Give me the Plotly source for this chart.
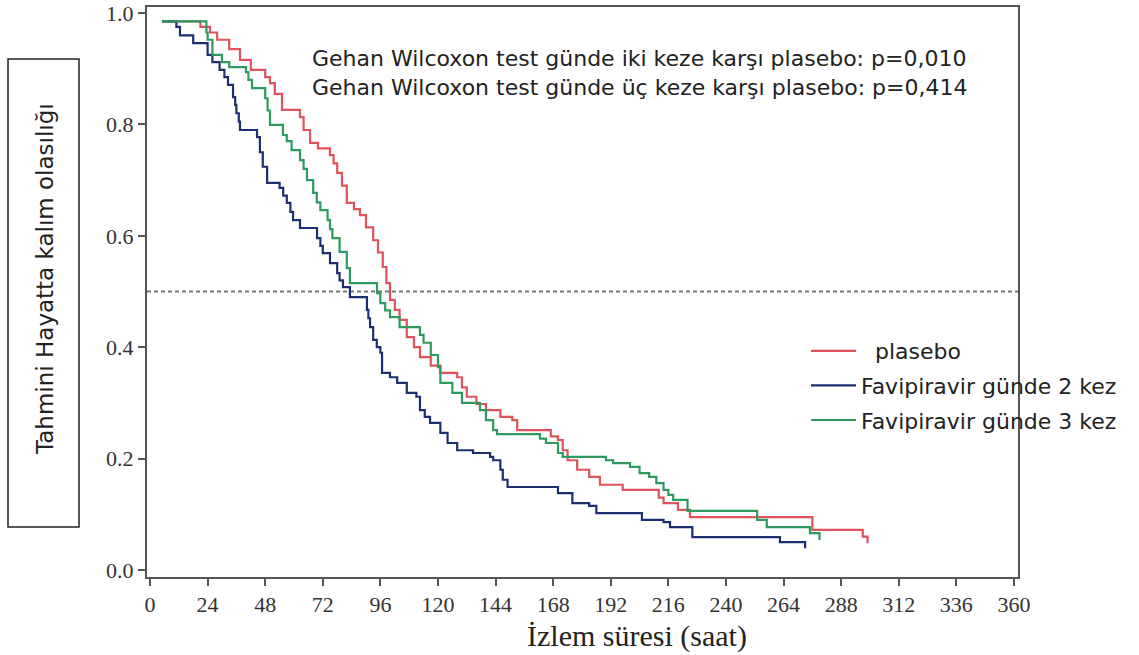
import plotly.graph_objects as go

# ---------------- data ----------------
x_ticks = [0, 24, 48, 72, 96, 120, 144, 168, 192, 216, 240, 264, 288, 312, 336, 360]
y_ticks = [0.0, 0.2, 0.4, 0.6, 0.8, 1.0]
median_level = 0.5

placebo_t = [5, 21, 25, 28, 33, 37.5, 42, 48, 50, 52, 55, 62.5, 64, 66.7, 70, 75, 76.5, 78, 80,
             82, 85, 87.5, 90, 93, 95, 97, 98.5, 100, 102, 104, 107, 110, 112.5, 117, 121, 128,
             130, 132, 136, 140, 146, 151, 153, 167, 170, 172, 174, 178, 183, 187.5, 197, 212,
             214, 220, 225, 276, 297, 299]
placebo_s = [0.985, 0.975, 0.965, 0.952, 0.935, 0.916, 0.898, 0.885, 0.874, 0.855, 0.826, 0.813,
             0.790, 0.767, 0.757, 0.745, 0.730, 0.713, 0.690, 0.659, 0.648, 0.637, 0.615, 0.592,
             0.570, 0.544, 0.515, 0.485, 0.467, 0.449, 0.418, 0.400, 0.382, 0.367, 0.354, 0.346,
             0.328, 0.311, 0.298, 0.287, 0.275, 0.269, 0.251, 0.240, 0.233, 0.215, 0.197, 0.180,
             0.167, 0.153, 0.144, 0.130, 0.120, 0.108, 0.095, 0.072, 0.060, 0.048]

bid_t = [5, 11, 12.5, 18, 24, 26, 29, 31, 32.5, 34.6, 35.5, 36, 37, 37.5, 44.6, 45.8, 47, 48.8,
         54, 55.5, 57, 58.5, 59.6, 62.5, 69.6, 71, 72, 75, 78, 79, 80.4, 83.3, 90.4, 91, 91.7,
         93, 94.5, 96, 96.7, 100, 103, 107, 111, 112.5, 114.5, 116.7, 121, 124, 128, 134.6,
         141.7, 143, 146, 147, 149, 170, 176, 183, 186, 205, 214, 216.7, 226, 262.5, 273]
bid_s = [0.985, 0.975, 0.960, 0.946, 0.925, 0.912, 0.898, 0.885, 0.871, 0.849, 0.835, 0.820,
         0.805, 0.790, 0.777, 0.750, 0.724, 0.695, 0.686, 0.672, 0.659, 0.643, 0.628, 0.614,
         0.596, 0.582, 0.569, 0.551, 0.533, 0.520, 0.508, 0.490, 0.467, 0.452, 0.436, 0.413,
         0.400, 0.390, 0.354, 0.346, 0.336, 0.318, 0.311, 0.287, 0.275, 0.264, 0.246, 0.228,
         0.215, 0.210, 0.203, 0.197, 0.180, 0.162, 0.149, 0.138, 0.120, 0.115, 0.102, 0.090,
         0.086, 0.077, 0.059, 0.050, 0.039]

tid_t = [5, 23.5, 24, 26, 30, 33, 40, 41, 42.5, 48, 49, 50, 55.4, 57, 59, 62.5, 64, 65.4, 68,
         69.5, 71, 74, 75, 76, 79, 82, 83.3, 94.6, 96, 98, 100, 104, 112.5, 114, 117, 120, 121,
         126, 130, 137.5, 140, 143, 144.6, 162.5, 165, 170, 172, 190, 193, 200, 204, 208, 211,
         214, 216, 218, 224, 253, 257, 275, 279]
tid_s = [0.985, 0.965, 0.952, 0.925, 0.912, 0.903, 0.894, 0.880, 0.865, 0.847, 0.825, 0.799,
         0.781, 0.770, 0.754, 0.736, 0.720, 0.700, 0.677, 0.660, 0.646, 0.628, 0.612, 0.596,
         0.571, 0.542, 0.515, 0.497, 0.479, 0.466, 0.454, 0.436, 0.422, 0.408, 0.386, 0.364,
         0.336, 0.318, 0.300, 0.287, 0.269, 0.251, 0.244, 0.236, 0.228, 0.210, 0.203, 0.197,
         0.192, 0.185, 0.174, 0.167, 0.156, 0.144, 0.135, 0.126, 0.106, 0.090, 0.077, 0.066,
         0.054]

names = ["\u00a0\u00a0plasebo", "Favipiravir günde 2 kez", "Favipiravir günde 3 kez"]
annot_text = ("Gehan Wilcoxon test günde iki keze karşı plasebo: p=0,010<br>"
              "Gehan Wilcoxon test günde üç keze karşı plasebo: p=0,414")
y_title = "Tahmini Hayatta kalım olasılığı"
x_title = "İzlem süresi (saat)"

# ---------------- figure ----------------
W, H = 1139, 655
ml, mr, mt, mb = 147, 121, 7, 78
pw, ph = W - ml - mr, H - mt - mb


def px_x(p):
    return (p - ml) / pw


def px_y(p):
    return (H - mb - p) / ph


fig = go.Figure()
series = [
    (names[0], placebo_t, placebo_s, "#e0525c", 2.2, 1),
    (names[1], bid_t, bid_s, "#1d2f6e", 2.2, 2),
    (names[2], tid_t, tid_s, "#2e9a5f", 2.2, 3),
]
for name, t, s, color, width, rank in series:
    fig.add_trace(go.Scatter(
        x=t, y=s, mode="lines", name=name, legendgroup=name, legendrank=rank,
        line=dict(shape="hv", color=color, width=width), hoverinfo="skip"))

fig.add_shape(type="line", xref="paper", yref="y", x0=0, x1=1,
              y0=median_level, y1=median_level,
              line=dict(color="#777777", width=2, dash="4px,3px"), layer="below")

# y-title box
fig.add_shape(type="rect", xref="paper", yref="paper",
              x0=px_x(8), x1=px_x(79), y0=px_y(527), y1=px_y(59),
              line=dict(color="#222222", width=1.5))
fig.add_annotation(text=y_title, xref="paper", yref="paper", x=px_x(45), y=px_y(279),
                   xanchor="center", yanchor="middle",
                   textangle=-90, showarrow=False,
                   font=dict(family="DejaVu Sans", size=23, color="#222222"))
fig.add_annotation(text=x_title, xref="paper", yref="paper", x=px_x(637), y=px_y(636),
                   xanchor="center", yanchor="middle",
                   showarrow=False, font=dict(family="Liberation Serif", size=30, color="#222222"))
fig.add_annotation(text=annot_text, xref="paper", yref="paper", x=px_x(310), y=px_y(73),
                   xanchor="left", yanchor="middle", align="left", showarrow=False,
                   font=dict(family="DejaVu Sans", size=22, color="#222222"))

axis_common = dict(showline=True, linecolor="#555555", linewidth=2, mirror=True,
                   ticks="outside", ticklen=7, tickwidth=1.5, tickcolor="#555555",
                   showgrid=False, zeroline=False, automargin=False,
                   tickfont=dict(family="Liberation Serif", size=22, color="#333333"))

fig.update_layout(
    width=W, height=H,
    margin=dict(l=ml, r=mr, t=mt, b=mb, autoexpand=False),
    paper_bgcolor="white", plot_bgcolor="white",
    xaxis=dict(range=[-1.25, 361.7], tickvals=x_ticks, **axis_common),
    yaxis=dict(range=[-0.0126, 1.0108], tickvals=y_ticks, tickformat=".1f", **axis_common),
    legend=dict(x=px_x(806), y=px_y(330), xanchor="left", yanchor="top",
                bgcolor="rgba(0,0,0,0)", tracegroupgap=3, itemwidth=45,
                font=dict(family="DejaVu Sans", size=22, color="#222222")),
    showlegend=True,
)

fig.write_html("out.html", config={"displayModeBar": False},
               post_script="document.body.style.margin='0px';")
